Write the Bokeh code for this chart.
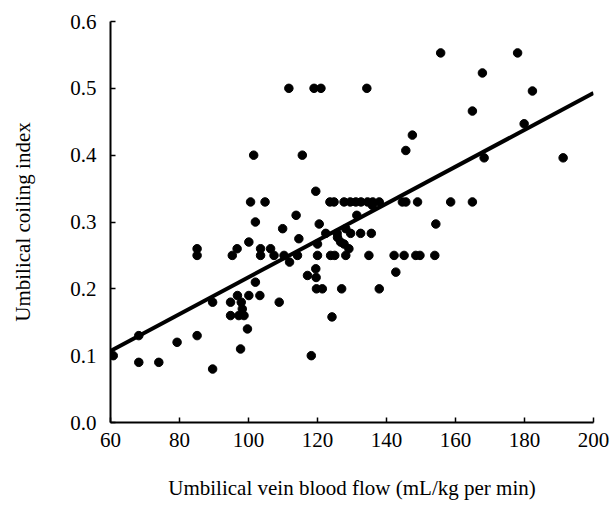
from bokeh.plotting import figure
from bokeh.embed import file_html
from bokeh.resources import INLINE
from bokeh.models import FixedTicker, PrintfTickFormatter

# Data
flow = [60.8, 68.2, 68.2, 74.0, 79.3, 85.1, 85.1, 85.1, 89.6, 89.6,
        94.8, 94.8, 95.3, 96.7, 96.8, 97.2, 97.7, 97.9, 98.2, 98.7,
        99.7, 100.1, 100.1, 100.6, 101.5, 102.0, 102.0, 103.3, 103.5, 103.5,
        104.8, 106.4, 107.4, 108.9, 109.9, 110.3, 111.7, 111.9, 113.8, 114.2,
        114.6, 115.6, 117.1, 118.2, 119.0, 119.5, 119.5, 119.6, 119.7, 120.0,
        120.0, 120.5, 121.0, 121.4, 122.4, 123.8, 124.2, 125.0, 125.7, 125.8,
        126.7, 127.0, 127.7, 128.2, 128.2, 129.1, 129.6, 131.4, 132.5, 134.3,
        134.9, 135.6, 135.9, 137.9, 142.2, 142.7, 145.1, 145.6, 147.5, 148.5,
        149.7, 154.0, 154.3, 155.7, 164.9, 167.8, 168.3, 178.0, 179.9, 182.3,
        191.2,
        123.6, 124.8, 127.7, 129.5, 131.1, 132.6, 134.5, 136.0, 137.9, 144.6,
        145.6, 149.0, 158.6, 164.9]
coiling = [0.10, 0.13, 0.09, 0.09, 0.12, 0.13, 0.26, 0.25, 0.18, 0.08,
           0.18, 0.16, 0.25, 0.26, 0.19, 0.16, 0.11, 0.18, 0.17, 0.16,
           0.14, 0.19, 0.27, 0.33, 0.40, 0.30, 0.21, 0.19, 0.26, 0.25,
           0.33, 0.26, 0.25, 0.18, 0.29, 0.25, 0.50, 0.24, 0.31, 0.25,
           0.275, 0.40, 0.22, 0.10, 0.50, 0.346, 0.23, 0.217, 0.20, 0.267,
           0.25, 0.297, 0.50, 0.20, 0.283, 0.25, 0.158, 0.25, 0.283, 0.277,
           0.27, 0.20, 0.267, 0.25, 0.29, 0.26, 0.283, 0.31, 0.283, 0.50,
           0.25, 0.283, 0.325, 0.20, 0.25, 0.225, 0.25, 0.407, 0.43, 0.25,
           0.25, 0.25, 0.297, 0.553, 0.466, 0.523, 0.396, 0.553, 0.447, 0.496,
           0.396,
           0.33, 0.33, 0.33, 0.33, 0.33, 0.33, 0.33, 0.33, 0.33, 0.33,
           0.33, 0.33, 0.33, 0.33]

fit_flow = [60, 200]
fit_coiling = [0.107, 0.493]

x_ticks = [60, 80, 100, 120, 140, 160, 180, 200]
y_ticks = [0.0, 0.1, 0.2, 0.3, 0.4, 0.5, 0.6]

x_title = "Umbilical vein blood flow (mL/kg per min)"
y_title = "Umbilical coiling index"

FONT = "Liberation Serif"
FS = "21px"

p = figure(width=613, height=510, x_range=(60, 200), y_range=(0, 0.6),
           output_backend="svg", toolbar_location=None,
           min_border_left=110, min_border_right=20,
           min_border_top=21, min_border_bottom=88)
p.outline_line_color = None
p.grid.visible = False
p.background_fill_color = "white"
p.border_fill_color = "white"

p.line(fit_flow, fit_coiling, line_width=4, color="black")
p.scatter(flow, coiling, size=8.5, color="black")

for ax in (p.xaxis[0], p.yaxis[0]):
    ax.axis_line_width = 2
    ax.axis_line_color = "black"
    ax.major_tick_in = 5
    ax.major_tick_out = 0
    ax.major_tick_line_width = 1.5
    ax.minor_tick_line_color = None
    ax.major_label_text_font = FONT
    ax.major_label_text_color = "black"
    ax.major_label_text_font_size = FS
    ax.axis_label_text_font = FONT
    ax.axis_label_text_font_style = "normal"
    ax.axis_label_text_color = "black"
    ax.axis_label_text_font_size = FS

p.xaxis.ticker = FixedTicker(ticks=x_ticks)
p.yaxis.ticker = FixedTicker(ticks=y_ticks)
p.yaxis.formatter = PrintfTickFormatter(format="%.1f")
p.xaxis.major_label_standoff = 10
p.yaxis.major_label_standoff = 14

p.yaxis.axis_label = y_title
p.yaxis.axis_label_standoff = 32
p.xaxis.axis_label = x_title
p.xaxis.axis_label_standoff = 26

open("out.html", "w").write(file_html(p, INLINE))
